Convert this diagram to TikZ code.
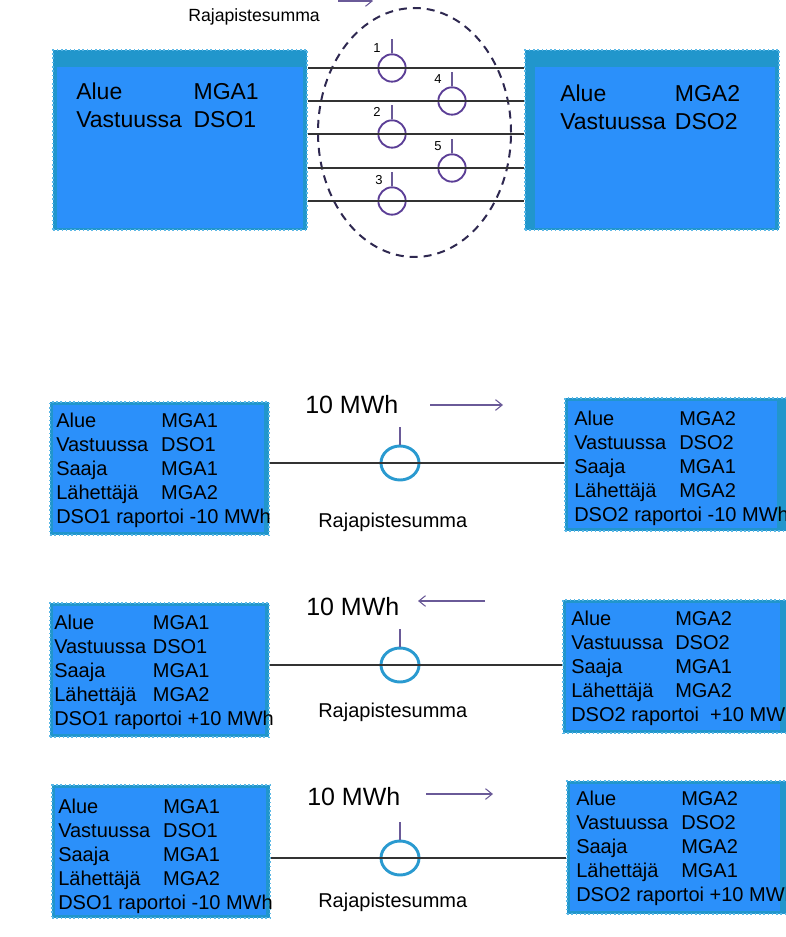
\documentclass[tikz,border=0pt]{standalone}
\usepackage{fontspec}
\setmainfont{Liberation Sans}
\usepackage{tikz}
\usetikzlibrary{positioning,fit,arrows.meta,shapes.geometric}
\definecolor{boxBlue}{HTML}{2B90FA}
\definecolor{bandBlue}{HTML}{2196CC}
\definecolor{dotBlue}{HTML}{5BB8E6}
\definecolor{meterBlue}{HTML}{2A9AD0}
\definecolor{linePurple}{HTML}{6A5A98}
\definecolor{ringPurple}{HTML}{5B3E96}
\definecolor{zoneDark}{HTML}{2E2850}
\definecolor{wireGray}{HTML}{333333}

\newcommand{\kv}[3][78.75pt]{\makebox[#1][l]{#2}#3}

\begin{document}
\begin{tikzpicture}[x=0.75pt, y=-0.75pt,
  every node/.style={font=\fontsize{15}{18}\selectfont},
  panel/.style={fill=bandBlue, draw=dotBlue, line width=1.2pt, dotted, inner sep=0pt},
  info/.style={anchor=base west, align=left, inner sep=0pt},
  bigtext/.style={font=\fontsize{17.25}{21}\selectfont},
  wire/.style={draw=wireGray, line width=0.9pt},
  ring/.style={circle, draw=ringPurple, line width=1.4pt, minimum size=20.5pt, inner sep=0pt},
  meter/.style={ellipse, draw=meterBlue, line width=2.2pt, minimum width=28.5pt,
                minimum height=25.5pt, inner sep=0pt},
  stem/.style={draw=linePurple, line width=1pt},
  num/.style={anchor=base west, inner sep=0pt, font=\fontsize{9.75}{11}\selectfont},
  zone/.style={ellipse, draw=zoneDark, line width=1.5pt, dash pattern=on 6pt off 4.5pt,
               minimum width=144.75pt, minimum height=186.75pt, inner sep=0pt},
  amount/.style={anchor=base west, inner sep=0pt, font=\fontsize{18.75}{22}\selectfont},
  sumlbl/.style={anchor=base west, inner sep=0pt},
  flowarrow/.style={draw=linePurple, line width=0.8pt, -{Straight Barb[length=5pt, width=8pt]}},
]
\useasboundingbox (0,0) rectangle (785,937);

% Areas with their border points (text nodes sit on their last baseline)
\node[panel, fit={(53,50) (307,230)}] (mga1) {};
\fill[boxBlue] (57,67) rectangle (303,228);
\node[info, bigtext] (mga1txt) at (76,128) {\kv[88pt]{Alue}{MGA1}\\ \kv[88pt]{Vastuussa}{DSO1}};
\node[panel, fit={(525,50) (779,230)}] (mga2) {};
\fill[boxBlue] (535,67) rectangle (775,228);
\node[info, bigtext] (mga2txt) at (560,130) {\kv[86pt]{Alue}{MGA2}\\ \kv[86pt]{Vastuussa}{DSO2}};

\node[zone] (zone) at (414.5,132.5) {};
\node[sumlbl, font=\fontsize{13.25}{15}\selectfont] (zonelbl) at (188,22) {Rajapistesumma};
\draw[flowarrow] (338,1) -- (373,1);

\node[ring] (m1) at (392,68) {};
\node[ring] (m4) at (452,101) {};
\node[ring] (m2) at (392,134) {};
\node[ring] (m5) at (452,168) {};
\node[ring] (m3) at (392,201) {};
\draw[wire] (mga1.east |- m1) -- (mga2.west |- m1);
\draw[wire] (mga1.east |- m4) -- (mga2.west |- m4);
\draw[wire] (mga1.east |- m2) -- (mga2.west |- m2);
\draw[wire] (mga1.east |- m5) -- (mga2.west |- m5);
\draw[wire] (mga1.east |- m3) -- (mga2.west |- m3);
\draw[stem] (m1.north) -- ++(0,-14);
\draw[stem] (m4.north) -- ++(0,-14);
\draw[stem] (m2.north) -- ++(0,-14);
\draw[stem] (m5.north) -- ++(0,-14);
\draw[stem] (m3.north) -- ++(0,-14);
\node[num] (n1) at (373,53) {1};
\node[num] (n4) at (434,84) {4};
\node[num] (n2) at (373,117) {2};
\node[num] (n5) at (434,151) {5};
\node[num] (n3) at (375,185) {3};

% Case 1: flow MGA1 -> MGA2
\node[panel, fit={(50,402) (269,535)}] (send1) {};
\fill[boxBlue] (53,405) rectangle (264,532);
\node[info] (send1txt) at (56,523) {\kv{Alue}{MGA1}\\ \kv{Vastuussa}{DSO1}\\ \kv{Saaja}{MGA1}\\
  \kv{Lähettäjä}{MGA2}\\ DSO1 raportoi -10 MWh};
\node[panel, fit={(565,398) (795,531)}] (recv1) {};
\fill[boxBlue] (568,401) rectangle (777,528);
\node[info] (recv1txt) at (574,521) {\kv{Alue}{MGA2}\\ \kv{Vastuussa}{DSO2}\\ \kv{Saaja}{MGA1}\\
  \kv{Lähettäjä}{MGA2}\\ DSO2 raportoi -10 MWh};
\node[meter] (c1) at (400,463) {};
\draw[wire] (send1.east |- c1) -- (recv1.west |- c1);
\draw[stem] (c1.north) -- ++(0,-18);
\node[amount] (q1) at (305,413) {10 MWh};
\draw[flowarrow] (430,405) -- (503,405);
\node[sumlbl] (s1) at (318,527) {Rajapistesumma};

% Case 2: flow MGA2 -> MGA1
\node[panel, fit={(50,603) (269,737)}] (send2) {};
\fill[boxBlue] (53,606) rectangle (265,734);
\node[info] (send2txt) at (54,725) {\kv[74pt]{Alue}{MGA1}\\ \kv[74pt]{Vastuussa}{DSO1}\\ \kv[74pt]{Saaja}{MGA1}\\
  \kv[74pt]{Lähettäjä}{MGA2}\\ DSO1 raportoi +10 MWh};
\node[panel, fit={(563,600) (795,733)}] (recv2) {};
\fill[boxBlue] (566,603) rectangle (780,730);
\node[info] (recv2txt) at (571,721) {\kv[78pt]{Alue}{MGA2}\\ \kv[78pt]{Vastuussa}{DSO2}\\ \kv[78pt]{Saaja}{MGA1}\\
  \kv[78pt]{Lähettäjä}{MGA2}\\ DSO2 raportoi \ +10 MWh};
\node[meter] (c2) at (400,665) {};
\draw[wire] (send2.east |- c2) -- (recv2.west |- c2);
\draw[stem] (c2.north) -- ++(0,-18);
\node[amount] (q2) at (306,615) {10 MWh};
\draw[flowarrow] (485,601) -- (418,601);
\node[sumlbl] (s2) at (318,717) {Rajapistesumma};

% Case 3: sender and receiver swapped
\node[panel, fit={(52,785) (270,918)}] (send3) {};
\fill[boxBlue] (55,788) rectangle (266,915);
\node[info] (send3txt) at (58,909) {\kv{Alue}{MGA1}\\ \kv{Vastuussa}{DSO1}\\ \kv{Saaja}{MGA1}\\
  \kv{Lähettäjä}{MGA2}\\ DSO1 raportoi -10 MWh};
\node[panel, fit={(567,781) (795,914)}] (recv3) {};
\fill[boxBlue] (570,784) rectangle (780,911);
\node[info] (recv3txt) at (576,901) {\kv{Alue}{MGA2}\\ \kv{Vastuussa}{DSO2}\\ \kv{Saaja}{MGA2}\\
  \kv{Lähettäjä}{MGA1}\\ DSO2 raportoi +10 MWh};
\node[meter] (c3) at (400,858) {};
\draw[wire] (send3.east |- c3) -- (recv3.west |- c3);
\draw[stem] (c3.north) -- ++(0,-18);
\node[amount] (q3) at (307,805) {10 MWh};
\draw[flowarrow] (426,794) -- (493,794);
\node[sumlbl] (s3) at (318,907) {Rajapistesumma};

\end{tikzpicture}
\end{document}
